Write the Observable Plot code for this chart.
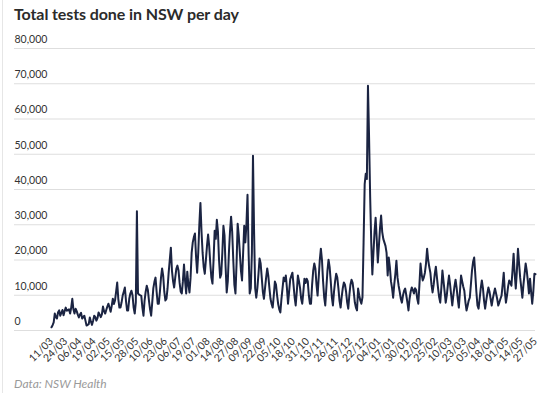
<!DOCTYPE html>
<html>
<head>
<meta charset="utf-8">
<script src="https://cdn.jsdelivr.net/npm/d3@7"></script>
<script src="https://cdn.jsdelivr.net/npm/@observablehq/plot@0.6"></script>
<style>
  html, body { margin: 0; padding: 0; background: #fff; }
  #wrap { position: relative; width: 559px; height: 393px; overflow: hidden; font-family: Lato, "Open Sans", sans-serif; }
  #border { position: absolute; left: 2px; top: 0; width: 1px; height: 393px; background: #e6e6e6; }
  #title { position: absolute; left: 14px; top: 4px; font-size: 16px; font-weight: 700; color: #2b2b2b; letter-spacing: -0.1px; }
  #chart { position: absolute; left: 0; top: 30px; }
  #caption { position: absolute; left: 14px; top: 376px; font-size: 12px; font-style: italic; color: #9a9a9a; }
</style>
</head>
<body>
<div id="wrap">
  <div id="border"></div>
  <div id="title">Total tests done in NSW per day</div>
  <div id="chart"></div>
  <div id="caption">Data: NSW Health</div>
</div>
<script>
// First day of the series (11/03/2020); one value per day follows
const startDate = "2020-03-11";

// Daily tests
const tests = [
  // 11/03 – 24/06
  900, 1500, 2300, 4800, 3800, 3400, 5200,
  5700, 4200, 5000, 5800, 4300, 5500, 6500,
  5600, 5800, 6000, 4800, 6500, 9000, 6000,
  4800, 6200, 5500, 4500, 3700, 4500, 5000,
  3400, 3800, 4200, 2800, 1400, 1600, 1800,
  3700, 2500, 1600, 2800, 4200, 3800, 2800,
  3500, 5100, 4500, 3800, 4600, 6800, 5500,
  4800, 5800, 6800, 7600, 6500, 5300, 7000,
  9000, 7500, 8500, 11000, 13600, 9000, 6500,
  6500, 8000, 9900, 11000, 12200, 8500, 5700,
  5700, 9000, 10500, 11300, 10000, 6500, 4800,
  8000, 33800, 10500, 10200, 10000, 9800, 6500,
  4200, 8500, 11000, 12700, 11500, 8500, 6000,
  4200, 8000, 12000, 13800, 15000, 11000, 7600,
  7600, 11000, 15000, 17600, 15500, 11000, 8500,
  // 24/06 – 08/09
  9000, 12000, 16400, 20000, 23500, 17000, 14000,
  12200, 15000, 17500, 18400, 17000, 13500, 11000,
  10500, 14000, 18700, 14000, 10500, 16700, 13000,
  10800, 15000, 22100, 25000, 26500, 27500, 21000,
  16400, 22000, 30000, 36200, 28000, 22000, 18000,
  16100, 20000, 24000, 27200, 24000, 19000, 15000,
  13300, 20000, 28300, 26000, 31400, 28000, 20000,
  15000, 16000, 22000, 29700, 27000, 18000, 10800,
  14000, 22000, 28000, 32300, 28000, 20000, 13000,
  10500, 19000, 30300, 27000, 22000, 17000, 14200,
  22000, 29700, 25000, 30000, 38500, 22000, 10500,
  // 09/09 – 04/01
  12000, 22000, 49600, 28000, 12000, 9300, 12000,
  16000, 20400, 19000, 15000, 11000, 9000, 12000,
  15000, 17600, 15500, 12000, 9000, 7500, 6500,
  10000, 13900, 13000, 10000, 7500, 6000, 5100,
  9000, 12000, 15000, 14000, 15600, 12000, 7600,
  11000, 14500, 15500, 16400, 13000, 9500, 7100,
  11000, 15600, 14000, 12000, 9000, 7600, 11000,
  14700, 13500, 14700, 14000, 10000, 7600, 7600,
  13000, 17000, 19000, 17500, 13000, 9900, 15000,
  20000, 23200, 20000, 14000, 9500, 7100, 12000,
  17000, 20100, 18000, 14000, 9500, 7100, 11000,
  14000, 16100, 15000, 12000, 8500, 6500, 9500,
  12000, 13600, 13000, 11000, 8000, 6200, 10000,
  13000, 14400, 13500, 11000, 8000, 6500, 5700,
  11900, 10000, 8500, 7600, 9500, 25000, 41500,
  44500, 43000, 69400, 55000, 38000, 25000, 15900,
  22000, 28000, 32000, 26000, 19300, 24000, 29000,
  // 04/01 – 27/05
  32600, 28000, 26000, 25000, 24000, 22000, 15600,
  20700, 18000, 14000, 12000, 9300, 13000, 16000,
  19800, 15000, 12700, 11000, 9000, 7900, 10000,
  11300, 11900, 10000, 8000, 5700, 9000, 11000,
  12200, 11500, 10500, 12000, 11500, 9000, 7600,
  13000, 19000, 16000, 14200, 15000, 16400, 19000,
  23200, 20000, 18000, 16400, 13000, 10800, 13000,
  16000, 18100, 15000, 12000, 9500, 7900, 12000,
  17000, 14000, 11000, 7900, 10000, 13000, 15600,
  13000, 10000, 7100, 10000, 12500, 14400, 12000,
  9000, 6500, 11000, 15600, 14000, 12500, 11300,
  8000, 5700, 7000, 8500, 9300, 13000, 17000,
  19500, 20700, 16000, 11000, 7100, 6200, 9000,
  12000, 14200, 12000, 8500, 6200, 8500, 10500,
  12200, 11000, 9000, 7100, 9000, 10500, 11900,
  10500, 9000, 7100, 8000, 9000, 9900, 13000,
  16400, 11000, 7900, 10000, 12500, 14200, 13500,
  12700, 17000, 21800, 16000, 11900, 17000, 23200,
  19000, 15000, 12200, 9300, 13000, 16000, 19000,
  17000, 14000, 10500, 14700, 11000, 7600, 11000,
  16100, 16000
];

// X tick labels (one every 13 days)
const xTickLabels = ["11/03","24/03","06/04","19/04","02/05","15/05","28/05","10/06","23/06","06/07",
  "19/07","01/08","14/08","27/08","09/09","22/09","05/10","18/10","31/10","13/11","26/11","09/12",
  "22/12","04/01","17/01","30/01","12/02","25/02","10/03","23/03","05/04","18/04","01/05","14/05","27/05"];

// Y tick values
const yTicks = [0, 10000, 20000, 30000, 40000, 50000, 60000, 70000, 80000];

const start = new Date(startDate + "T00:00:00Z");
const data = tests.map((v, i) => ({date: d3.utcDay.offset(start, i), value: v}));
const xTickDates = xTickLabels.map((_, i) => d3.utcDay.offset(start, i * 13));

const chart = Plot.plot({
  width: 559,
  height: 342,
  marginTop: 18,
  marginBottom: 42,
  marginLeft: 14,
  marginRight: 24,
  style: {fontFamily: "Lato, 'Open Sans', sans-serif", background: "transparent"},
  x: {type: "utc", domain: [data[0].date, data[data.length - 1].date], range: [51, 535], label: null},
  y: {domain: [0, 80000], range: [300, 18], axis: null, label: null},
  marks: [
    Plot.ruleY(yTicks, {stroke: "#dedede", strokeWidth: 1.2}),
    Plot.text(yTicks, {
      y: d => d, frameAnchor: "left", textAnchor: "start", dy: -9,
      text: d => d.toLocaleString("en-US"), fontSize: 10.5, fill: "#333"
    }),
    Plot.axisX({
      ticks: xTickDates, tickFormat: (d, i) => xTickLabels[i],
      tickRotate: -45, tickSize: 0, tickPadding: 9, fontSize: 10.5, fill: "#333", label: null
    }),
    Plot.line(data, {x: "date", y: "value", stroke: "#1b2442", strokeWidth: 2, strokeLinejoin: "round"})
  ]
});
document.getElementById("chart").appendChild(chart);
</script>
</body>
</html>
